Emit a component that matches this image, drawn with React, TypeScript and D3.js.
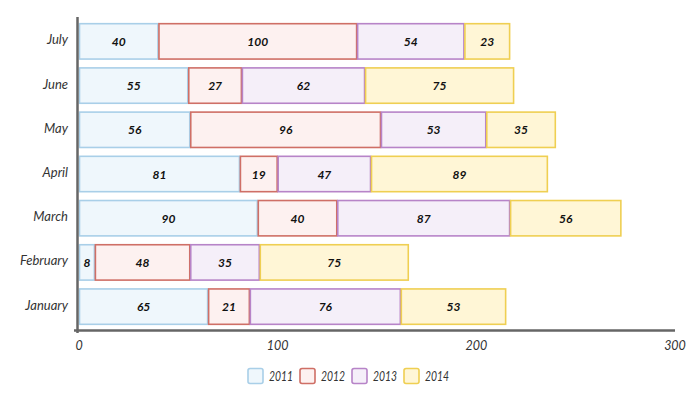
import React from "react";
import * as d3 from "d3";

const months = ["January", "February", "March", "April", "May", "June", "July"];
const seriesNames = ["2011", "2012", "2013", "2014"];
const v2011 = [65, 8, 90, 81, 56, 55, 40];
const v2012 = [21, 48, 40, 19, 96, 27, 100];
const v2013 = [76, 35, 87, 47, 53, 62, 54];
const v2014 = [53, 75, 56, 89, 35, 75, 23];
const xTicks = [0, 100, 200, 300];

const strokes = ["#a9cfe8", "#cf6f66", "#b784c8", "#efcf52"];
const fills = ["#eff7fc", "#fdf1f0", "#f5eff9", "#fff6d6"];

const FONT = "'Comic Sans MS', 'Lato', 'Open Sans', sans-serif";

export default function App() {
  const W = 700, H = 400;
  const x = d3.scaleLinear().domain([0, 300]).range([79, 675]);
  const y = d3
    .scaleBand<string>()
    .domain([...months].reverse())
    .range([17.5, 330.5])
    .paddingInner(0.2)
    .paddingOuter(0.14);

  const rows = months.map((m, i) => ({
    month: m,
    "2011": v2011[i],
    "2012": v2012[i],
    "2013": v2013[i],
    "2014": v2014[i],
  }));
  const stacked = d3.stack<any>().keys(seriesNames)(rows);

  const legendX0 = 248;
  const legendStep = 52;

  return (
    <svg
      width={W}
      height={H}
      viewBox={`0 0 ${W} ${H}`}
      style={{ position: "absolute", left: 0, top: 0, background: "#fff" }}
      fontFamily={FONT}
    >
      {stacked.map((s, si) => (
        <g key={s.key}>
          {s.map((d: any, i: number) => {
            const x0 = x(d[0]);
            const x1 = x(d[1]);
            const yy = y(d.data.month)!;
            const bw = y.bandwidth();
            return (
              <g key={i}>
                <rect
                  x={x0 + 0.5}
                  y={yy}
                  width={Math.max(0, x1 - x0 - 1)}
                  height={bw}
                  fill={fills[si]}
                  stroke={strokes[si]}
                  strokeWidth={1.6}
                />
                <text
                  x={(x0 + x1) / 2}
                  y={yy + bw / 2}
                  textAnchor="middle"
                  dominantBaseline="central"
                  fontSize={12}
                  fontWeight="bold"
                  fontStyle="italic"
                  fill="#111"
                >
                  {d[1] - d[0]}
                </text>
              </g>
            );
          })}
        </g>
      ))}

      <line x1={77.5} y1={17} x2={77.5} y2={333} stroke="#666" strokeWidth={2.5} />
      <line x1={74} y1={330.5} x2={675} y2={330.5} stroke="#666" strokeWidth={2.5} />

      {months.map((m) => (
        <text
          key={m}
          x={68}
          y={y(m)! + y.bandwidth() / 2 - 2}
          textAnchor="end"
          dominantBaseline="central"
          fontSize={13}
          fontStyle="italic"
          fill="#333"
        >
          {m}
        </text>
      ))}

      {xTicks.map((t) => (
        <text
          key={t}
          x={x(t)}
          y={350}
          textAnchor="middle"
          fontSize={12.5}
          fontStyle="italic"
          fill="#333"
        >
          {t}
        </text>
      ))}

      {seriesNames.map((n, i) => (
        <g key={n} transform={`translate(${legendX0 + i * legendStep},368.5)`}>
          <rect
            width={15}
            height={15}
            rx={2}
            fill={fills[i]}
            stroke={strokes[i]}
            strokeWidth={1.6}
          />
          <text
            x={21}
            y={12}
            fontSize={12.5}
            fontStyle="italic"
            fill="#333"
            textLength={24}
            lengthAdjust="spacingAndGlyphs"
          >
            {n}
          </text>
        </g>
      ))}
    </svg>
  );
}
